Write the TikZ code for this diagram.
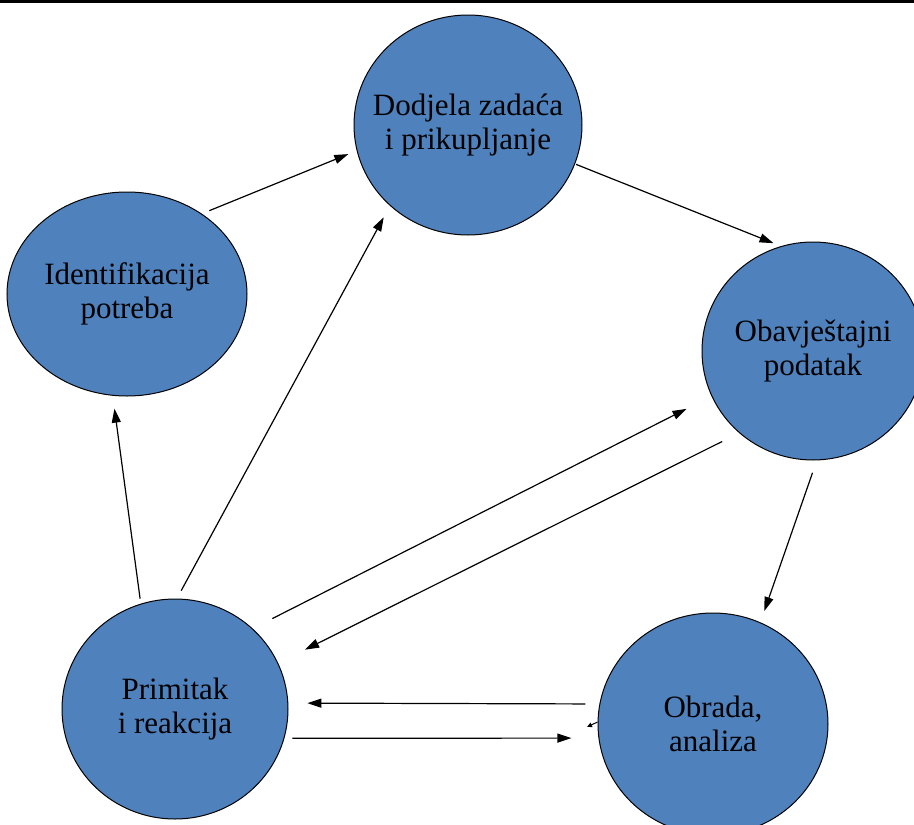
\documentclass[tikz,border=0pt]{standalone}
\usepackage{fontspec}
\setmainfont{Liberation Serif}
\usetikzlibrary{shapes.geometric,arrows.meta}
\definecolor{stageblue}{RGB}{79,129,189}
\begin{document}
\begin{tikzpicture}[x=1pt,y=-1pt,
  stage/.style={ellipse, draw=black, line width=1pt, fill=stageblue,
    inner sep=0pt},
  caption/.style={align=center, text=black, inner sep=0pt,
    font=\fontsize{31}{34}\selectfont},
  flow/.style={line width=1.2pt, -{Triangle[length=14pt,width=9pt]}},
  stub/.style={line width=1pt, -{Triangle[length=5pt,width=4.5pt]}}]
  % page frame and top rule
  \useasboundingbox (0,0) rectangle (914,825);
  \fill[black] (0,0) rectangle (914,3);

  % stages of the cycle (text set as a centred label so the oval keeps its size)
  \node[stage, minimum width=228pt, minimum height=220pt,
    label={[caption]center:Dodjela zadaća\\i prikupljanje}] (dodjela) at (468,125) {};
  \node[stage, minimum width=240pt, minimum height=204pt,
    label={[caption]center:Identifikacija\\potreba}] (ident) at (127,294) {};
  \node[stage, minimum width=222pt, minimum height=218pt,
    label={[caption]center:Obavještajni\\podatak}] (obav) at (813,351) {};
  \node[stage, minimum width=226pt, minimum height=220pt,
    label={[caption]center:Primitak\\i reakcija}] (primitak) at (175,709) {};
  \node[stage, minimum width=230pt, minimum height=222pt,
    label={[caption]center:Obrada,\\analiza}] (obrada) at (713,724) {};

  % connectors
  \draw[flow, shorten <=8pt, shorten >=9pt] (ident.47) -- (dodjela.193);
  \draw[flow, shorten <=1pt, shorten >=8pt] (dodjela.-20) -- (obav.107);
  \draw[flow, shorten <=13pt, shorten >=12pt] (obav.-88) -- (obrada.65);
  \draw[flow, shorten <=14pt, shorten >=19pt] (obrada.170) -- (primitak.3);
  \draw[flow, shorten <=8pt, shorten >=27pt] (primitak.-15) -- (obrada.187);
  \draw[flow, shorten <=22pt, shorten >=28pt] (primitak.46.5) -- (obav.204.3);
  \draw[flow, shorten <=19pt, shorten >=30pt] (obav.228) -- (primitak.24.4);
  \draw[flow, shorten <=5pt, shorten >=13pt] (primitak.108.7) -- (ident.262.5);
  \draw[flow, shorten <=9pt, shorten >=13pt] (primitak.89) -- (dodjela.226.6);

  % short stray pointer at the left of Obrada
  \coordinate (stubend) at (587,727);
  \draw[stub] (obrada.179) -- (stubend);
\end{tikzpicture}
\end{document}
